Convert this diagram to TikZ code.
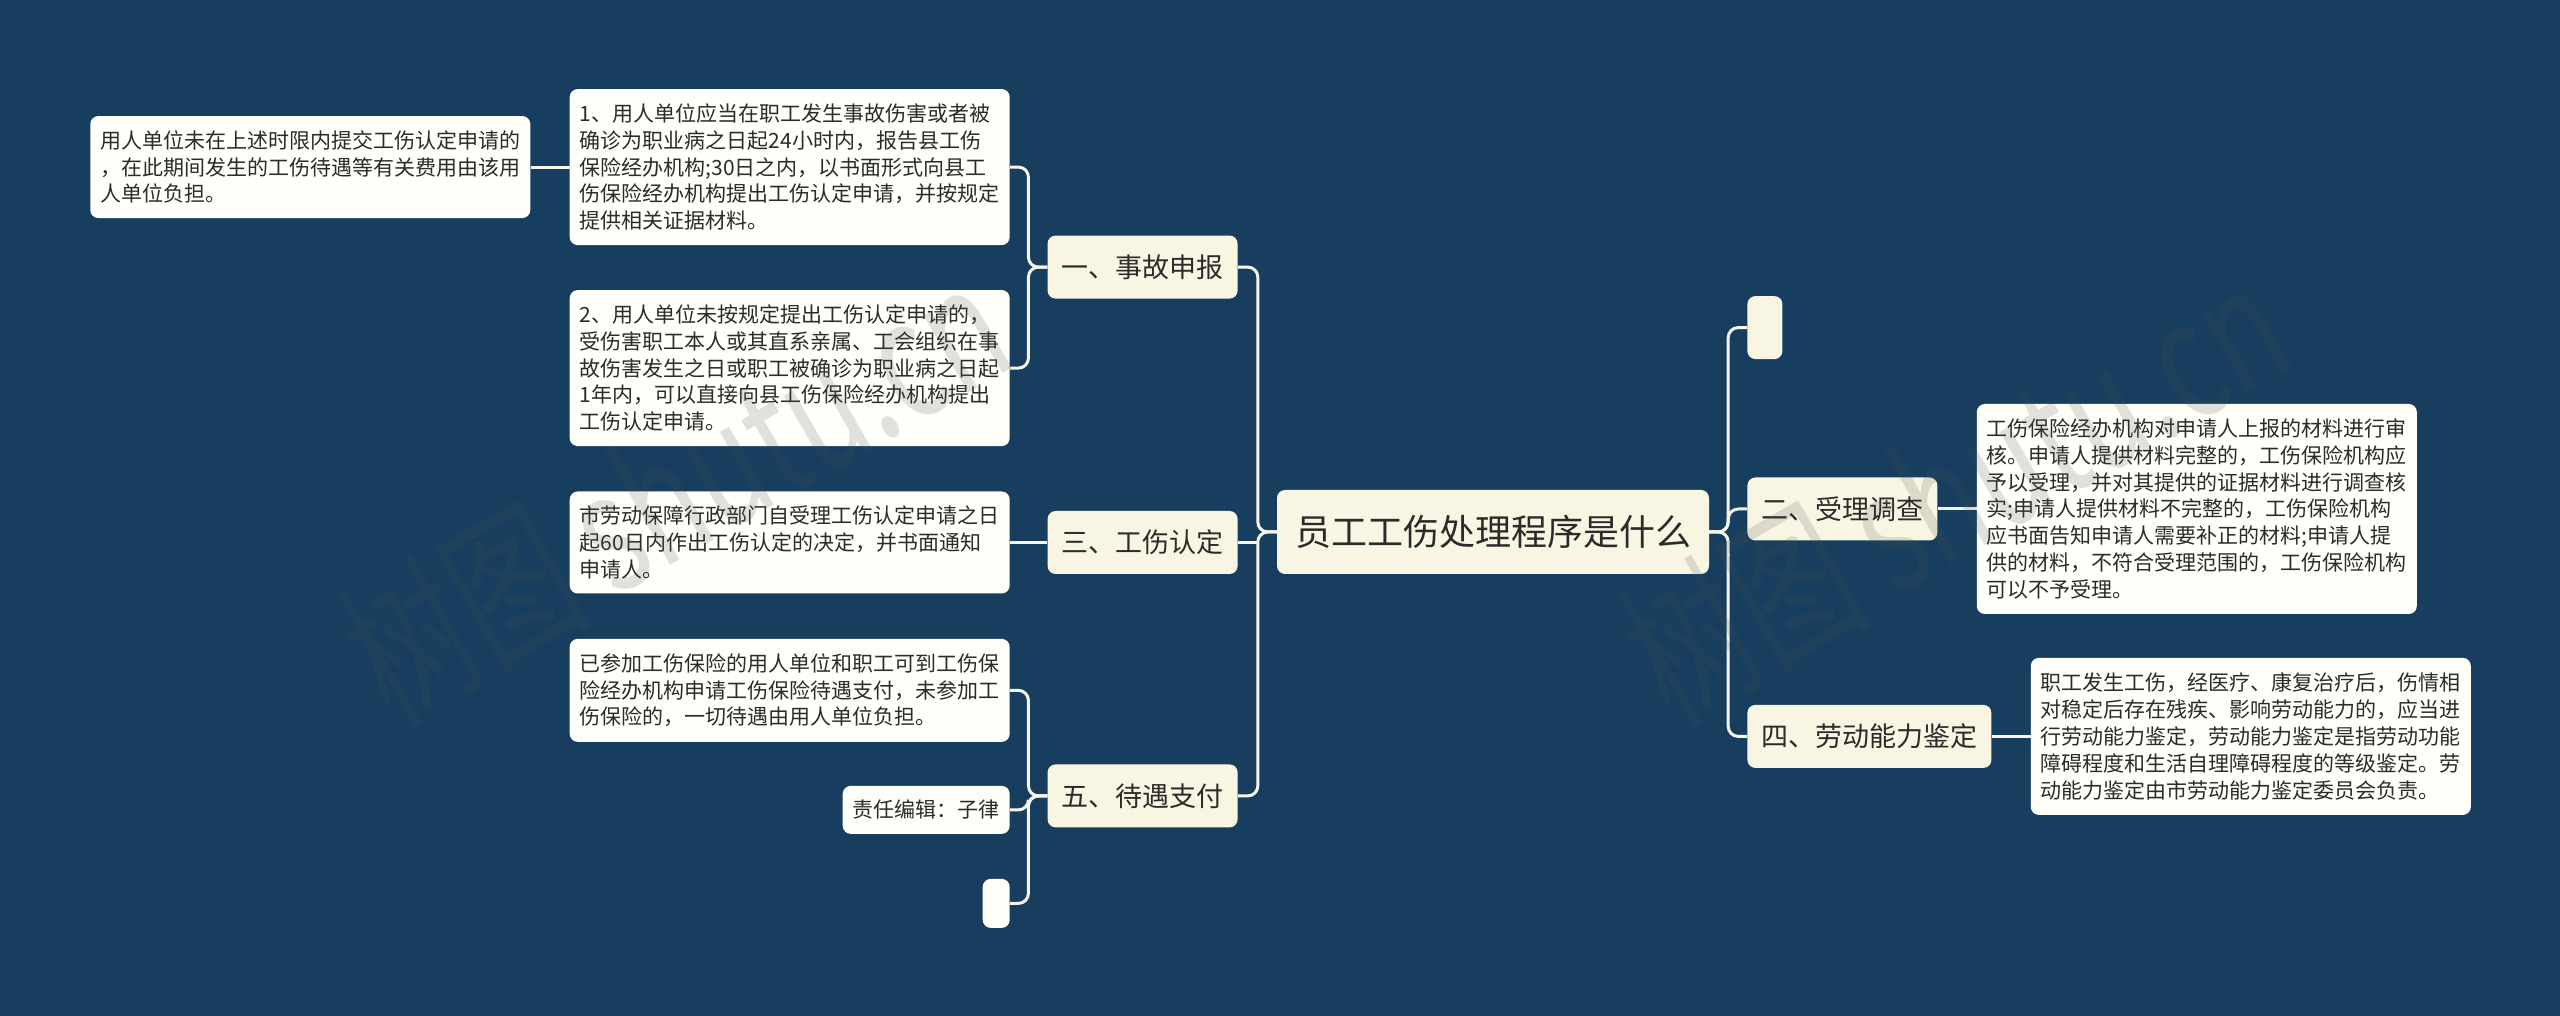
\documentclass[tikz,border=0pt]{standalone}
\usepackage{fontspec}
\setmainfont{Noto Sans CJK SC}
\newfontfamily\wmfont[FakeStretch=0.7]{Noto Sans CJK SC}
\usetikzlibrary{positioning}
\definecolor{bgblue}{HTML}{173E5E}
\definecolor{maincream}{HTML}{F9F5E3}
\definecolor{leafcream}{HTML}{FFFEF9}
\definecolor{linkcream}{HTML}{F6F5EA}
\definecolor{inkgrey}{HTML}{2B2B2B}
\definecolor{wmgrey}{HTML}{505050}
\tikzset{
	rootnode/.style={fill=maincream,text=inkgrey,rounded corners=8pt,inner xsep=18pt,inner ysep=0pt,minimum height=84pt,font=\fontsize{36}{44}\selectfont},
	mainnode/.style={fill=maincream,text=inkgrey,rounded corners=8pt,inner xsep=14pt,inner ysep=0pt,minimum height=63pt,font=\fontsize{27}{33}\selectfont},
	leafnode/.style={fill=leafcream,text=inkgrey,rounded corners=8pt,inner xsep=10pt,inner ysep=0pt,align=left,font=\fontsize{21}{26.8}\selectfont},
	link/.style={draw=linkcream,line width=3pt,rounded corners=10pt},
	wmark/.style={rotate=30,text=wmgrey,text opacity=0.17,font=\wmfont\fontsize{165}{170}\selectfont}
}

\begin{document}
\begin{tikzpicture}[x=1pt,y=1pt]
	\fill[bgblue] (0,0) rectangle (2560,1016);

	\node[rootnode] (root) at (1493,484) {员工工伤处理程序是什么};

	\node[mainnode,left=39pt of root,yshift=-10.5pt] (sec3) {三、工伤认定};
	\node[mainnode,above=212pt of sec3] (sec1) {一、事故申报};
	\node[mainnode,below=190pt of sec3] (sec5) {五、待遇支付};
	\node[mainnode,right=38pt of root,yshift=23pt] (sec2) {二、受理调查};
	\node[mainnode,minimum width=35pt,inner xsep=0pt,above=118pt of sec2.north west,anchor=south west] (secblank) {};
	\node[mainnode,below=164pt of sec2.south west,anchor=north west] (sec4) {四、劳动能力鉴定};

	\node[leafnode,minimum height=156pt,left=37.5pt of sec1,yshift=100pt] (apply1) {1、用人单位应当在职工发生事故伤害或者被\\确诊为职业病之日起24小时内，报告县工伤\\保险经办机构;30日之内，以书面形式向县工\\伤保险经办机构提出工伤认定申请，并按规定\\提供相关证据材料。};
	\node[leafnode,minimum height=156pt,left=37.5pt of sec1,yshift=-101pt] (apply2) {2、用人单位未按规定提出工伤认定申请的，\\受伤害职工本人或其直系亲属、工会组织在事\\故伤害发生之日或职工被确诊为职业病之日起\\1年内，可以直接向县工伤保险经办机构提出\\工伤认定申请。};
	\node[leafnode,minimum height=102pt,left=39pt of apply1] (late) {用人单位未在上述时限内提交工伤认定申请的\\，在此期间发生的工伤待遇等有关费用由该用\\人单位负担。};
	\node[leafnode,minimum height=102pt,left=37.5pt of sec3] (decide) {市劳动保障行政部门自受理工伤认定申请之日\\起60日内作出工伤认定的决定，并书面通知\\申请人。};
	\node[leafnode,minimum height=103pt,left=37.5pt of sec5,yshift=105.5pt] (pay) {已参加工伤保险的用人单位和职工可到工伤保\\险经办机构申请工伤保险待遇支付，未参加工\\伤保险的，一切待遇由用人单位负担。};
	\node[leafnode,minimum height=48pt,left=37.5pt of sec5,yshift=-14pt] (editor) {责任编辑：子律};
	\node[leafnode,minimum width=27pt,minimum height=49pt,inner xsep=0pt,left=37.5pt of sec5,yshift=-107.5pt] (leafblank) {};
	\node[leafnode,minimum height=210pt,right=39pt of sec2] (review) {工伤保险经办机构对申请人上报的材料进行审\\核。申请人提供材料完整的，工伤保险机构应\\予以受理，并对其提供的证据材料进行调查核\\实;申请人提供材料不完整的，工伤保险机构\\应书面告知申请人需要补正的材料;申请人提\\供的材料，不符合受理范围的，工伤保险机构\\可以不予受理。};
	\node[leafnode,minimum height=157pt,right=39pt of sec4] (ability) {职工发生工伤，经医疗、康复治疗后，伤情相\\对稳定后存在残疾、影响劳动能力的，应当进\\行劳动能力鉴定，劳动能力鉴定是指劳动功能\\障碍程度和生活自理障碍程度的等级鉴定。劳\\动能力鉴定由市劳动能力鉴定委员会负责。};

	\foreach \from/\to in {root/sec1,root/sec5,sec1/apply1,sec1/apply2,sec5/pay,sec5/editor,sec5/leafblank}
		\draw[link] (\from.west) -- ++(-19pt,0) |- (\to.east);
	\foreach \from/\to in {root/secblank,root/sec2,root/sec4}
		\draw[link] (\from.east) -- ++(19pt,0) |- (\to.west);
	\foreach \from/\to in {apply1/late,sec3/decide}
		\draw[link] (\from.west) -- (\to.east);
	\foreach \from/\to in {sec2/review,sec4/ability}
		\draw[link] (\from.east) -- (\to.west);
	\draw[link] (sec3.east) -- ++(19.5pt,0);

	\node[wmark] (wmleft) at (675,526) {树图 shutu.cn};
	\node[wmark] (wmright) at (1955,526) {树图 shutu.cn};
\end{tikzpicture}
\end{document}
